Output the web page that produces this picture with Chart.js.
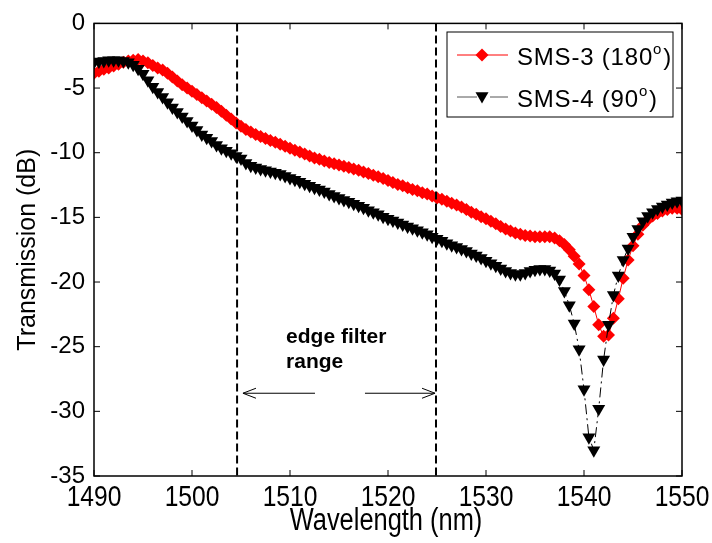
<!DOCTYPE html>
<html>
<head>
<meta charset="utf-8">
<script src="https://cdn.jsdelivr.net/npm/chart.js@4.4.1/dist/chart.umd.min.js"></script>
<style>
    html, body { margin: 0; padding: 0; background: #fff; }
    #wrap { width: 712px; height: 543px; }
</style>
</head>
<body>
<div id="wrap"><canvas id="chart" width="712" height="543"></canvas></div>
<script>
const wavelengths = [
    1490, 1490.5, 1491, 1491.5, 1492, 1492.5, 1493, 1493.5, 1494, 1494.5,
    1495, 1495.5, 1496, 1496.5, 1497, 1497.5, 1498, 1498.5, 1499, 1499.5,
    1500, 1500.5, 1501, 1501.5, 1502, 1502.5, 1503, 1503.5, 1504, 1504.5,
    1505, 1505.5, 1506, 1506.5, 1507, 1507.5, 1508, 1508.5, 1509, 1509.5,
    1510, 1510.5, 1511, 1511.5, 1512, 1512.5, 1513, 1513.5, 1514, 1514.5,
    1515, 1515.5, 1516, 1516.5, 1517, 1517.5, 1518, 1518.5, 1519, 1519.5,
    1520, 1520.5, 1521, 1521.5, 1522, 1522.5, 1523, 1523.5, 1524, 1524.5,
    1525, 1525.5, 1526, 1526.5, 1527, 1527.5, 1528, 1528.5, 1529, 1529.5,
    1530, 1530.5, 1531, 1531.5, 1532, 1532.5, 1533, 1533.5, 1534, 1534.5,
    1535, 1535.5, 1536, 1536.5, 1537, 1537.5, 1538, 1538.5, 1539, 1539.5,
    1540, 1540.5, 1541, 1541.5, 1542, 1542.5, 1543, 1543.5, 1544, 1544.5,
    1545, 1545.5, 1546, 1546.5, 1547, 1547.5, 1548, 1548.5, 1549, 1549.5,
    1550,
];

// SMS-3 (180 deg), red diamonds
const sms3 = [
    -3.85, -3.7, -3.55, -3.45, -3.3, -3.15, -3.0, -2.9, -2.85, -2.8,
    -2.9, -3.05, -3.25, -3.45, -3.6, -3.85, -4.15, -4.45, -4.75, -5.0,
    -5.25, -5.5, -5.75, -6.0, -6.25, -6.5, -6.8, -7.1, -7.4, -7.7,
    -7.95, -8.2, -8.4, -8.6, -8.75, -8.9, -9.05, -9.2, -9.35, -9.5,
    -9.65, -9.8, -9.95, -10.1, -10.25, -10.4, -10.5, -10.65, -10.75, -10.85,
    -10.95, -11.05, -11.15, -11.25, -11.35, -11.5, -11.6, -11.75, -11.85, -12.0,
    -12.15, -12.3, -12.45, -12.55, -12.7, -12.85, -12.95, -13.1, -13.2, -13.35,
    -13.5, -13.6, -13.75, -13.9, -14.05, -14.2, -14.4, -14.6, -14.75, -14.95,
    -15.1, -15.3, -15.5, -15.7, -15.9, -16.05, -16.2, -16.3, -16.4, -16.45,
    -16.5, -16.5, -16.5, -16.5, -16.6, -16.8, -17.1, -17.5, -18.0, -18.6,
    -19.5, -20.6, -21.9, -23.3, -24.2, -24.1, -22.8, -21.3, -19.7, -18.3,
    -17.2, -16.3, -15.6, -15.2, -14.9, -14.7, -14.5, -14.4, -14.3, -14.3,
    -14.4,
];

// SMS-4 (90 deg), black down-triangles
const sms4 = [
    -3.0, -2.95, -2.9, -2.85, -2.85, -2.85, -2.9, -3.0, -3.2, -3.5,
    -3.9, -4.4, -4.9, -5.3, -5.7, -6.1, -6.5, -6.85, -7.2, -7.55,
    -7.9, -8.25, -8.6, -8.85, -9.1, -9.4, -9.65, -9.85, -10.05, -10.25,
    -10.45, -10.8, -11.0, -11.15, -11.25, -11.35, -11.45, -11.55, -11.65, -11.8,
    -11.95, -12.1, -12.25, -12.4, -12.55, -12.7, -12.85, -13.0, -13.2, -13.35,
    -13.5, -13.65, -13.8, -13.95, -14.1, -14.25, -14.45, -14.6, -14.75, -14.95,
    -15.1, -15.25, -15.4, -15.55, -15.7, -15.85, -16.0, -16.15, -16.3, -16.5,
    -16.65, -16.8, -17.0, -17.15, -17.3, -17.45, -17.6, -17.8, -17.95, -18.15,
    -18.35, -18.55, -18.75, -18.95, -19.15, -19.3, -19.4, -19.4, -19.3, -19.15,
    -19.05, -19.0, -19.0, -19.1, -19.35, -19.8, -20.7, -21.8, -23.2, -25.2,
    -28.3, -32.0, -33.0, -29.8, -26.0, -23.3, -21.0, -19.5, -18.3, -17.4,
    -16.5, -15.9, -15.3, -14.9, -14.6, -14.35, -14.15, -14.0, -13.85, -13.75,
    -13.7,
];

const seriesLabels = ['SMS-3 (180', 'SMS-4 (90'];
const xTicks = [1490, 1500, 1510, 1520, 1530, 1540, 1550];
const yTicks = [-35, -30, -25, -20, -15, -10, -5, 0];
const edgeLines = [1504.6, 1524.9];
const arrowLeft = [1512.55, 1505.2];
const arrowRight = [1517.65, 1524.8];
const arrowLevel = -28.6;
const noteLines = ['edge filter', 'range'];
const noteAnchor = { x: 1509.6, y: [-24.75, -26.65] };

const RED = '#ff0000';
const BLACK = '#000000';
const SANS = "'Liberation Sans', Arial, sans-serif";

function toPoints(values) {
    return wavelengths.map((x, i) => ({ x, y: values[i] }));
}

// the figure's horizontal text is squeezed sideways, like Arial Narrow
function drawNarrowText(ctx, text, x, y, size) {
    ctx.save();
    ctx.font = `${size}px ${SANS}`;
    ctx.textAlign = 'center';
    ctx.textBaseline = 'alphabetic';
    ctx.translate(x, y);
    ctx.scale(0.82, 1);
    ctx.fillText(text, 0, 0);
    ctx.restore();
}

function drawDiamond(ctx, x, y, r) {
    ctx.beginPath();
    ctx.moveTo(x, y - r);
    ctx.lineTo(x + r, y);
    ctx.lineTo(x, y + r);
    ctx.lineTo(x - r, y);
    ctx.closePath();
    ctx.fill();
}

function drawDownTriangle(ctx, x, y, r) {
    ctx.beginPath();
    ctx.moveTo(x - r * 0.866, y - r * 0.5);
    ctx.lineTo(x + r * 0.866, y - r * 0.5);
    ctx.lineTo(x, y + r);
    ctx.closePath();
    ctx.fill();
}

function drawArrow(ctx, x1, x2, y) {
    const dir = Math.sign(x2 - x1);
    ctx.beginPath();
    ctx.moveTo(x1, y);
    ctx.lineTo(x2, y);
    ctx.stroke();
    ctx.beginPath();
    ctx.moveTo(x2 - dir * 13, y - 5);
    ctx.lineTo(x2, y);
    ctx.lineTo(x2 - dir * 13, y + 5);
    ctx.stroke();
}

const figureDecor = {
    id: 'figureDecor',
    afterDatasetsDraw(chart) {
        const { ctx, chartArea, scales } = chart;
        const { x: xs, y: ys } = scales;

        ctx.save();

        // edge-filter arrows and note
        ctx.strokeStyle = BLACK;
        ctx.lineWidth = 1;
        const ay = ys.getPixelForValue(arrowLevel);
        drawArrow(ctx, xs.getPixelForValue(arrowLeft[0]), xs.getPixelForValue(arrowLeft[1]), ay);
        drawArrow(ctx, xs.getPixelForValue(arrowRight[0]), xs.getPixelForValue(arrowRight[1]), ay);

        ctx.fillStyle = BLACK;
        ctx.font = `bold 21px ${SANS}`;
        ctx.textAlign = 'left';
        ctx.textBaseline = 'alphabetic';
        noteLines.forEach((line, i) => {
            ctx.fillText(line, xs.getPixelForValue(noteAnchor.x), ys.getPixelForValue(noteAnchor.y[i]));
        });

        // axes box with inward ticks
        ctx.lineWidth = 1.5;
        ctx.strokeRect(chartArea.left, chartArea.top, chartArea.right - chartArea.left, chartArea.bottom - chartArea.top);
        ctx.lineWidth = 1;
        ctx.beginPath();
        xTicks.forEach((v) => {
            const px = xs.getPixelForValue(v);
            ctx.moveTo(px, chartArea.bottom);
            ctx.lineTo(px, chartArea.bottom - 6);
            ctx.moveTo(px, chartArea.top);
            ctx.lineTo(px, chartArea.top + 6);
        });
        yTicks.forEach((v) => {
            const py = ys.getPixelForValue(v);
            ctx.moveTo(chartArea.left, py);
            ctx.lineTo(chartArea.left + 6, py);
            ctx.moveTo(chartArea.right, py);
            ctx.lineTo(chartArea.right - 6, py);
        });
        ctx.stroke();

        // x tick labels and x title
        xTicks.forEach((v) => {
            drawNarrowText(ctx, String(v), xs.getPixelForValue(v), chartArea.bottom + 30, 30);
        });
        drawNarrowText(ctx, 'Wavelength (nm)', (chartArea.left + chartArea.right) / 2 - 2, chartArea.bottom + 54, 31);

        // legend
        const box = { left: 447, top: 32, right: 673, bottom: 117 };
        ctx.fillStyle = '#ffffff';
        ctx.fillRect(box.left, box.top, box.right - box.left, box.bottom - box.top);
        ctx.strokeStyle = BLACK;
        ctx.lineWidth = 1;
        ctx.strokeRect(box.left, box.top, box.right - box.left, box.bottom - box.top);

        const rows = [
            { y: 55, color: RED, dash: [], marker: 'diamond', label: seriesLabels[0] },
            { y: 97, color: BLACK, dash: [20, 5, 3, 5], marker: 'triangle', label: seriesLabels[1] },
        ];
        rows.forEach((row) => {
            ctx.save();
            ctx.strokeStyle = row.color === RED ? RED : '#555555';
            ctx.lineWidth = 1;
            ctx.setLineDash(row.dash);
            ctx.beginPath();
            ctx.moveTo(457, row.y);
            ctx.lineTo(508, row.y);
            ctx.stroke();
            ctx.restore();
            ctx.fillStyle = row.color;
            if (row.marker === 'diamond') {
                drawDiamond(ctx, 482, row.y, 6.5);
            } else {
                drawDownTriangle(ctx, 482, row.y - 1, 7.5);
            }
            ctx.save();
            ctx.fillStyle = BLACK;
            ctx.font = `24px ${SANS}`;
            ctx.letterSpacing = '0.8px';
            ctx.textAlign = 'left';
            ctx.textBaseline = 'alphabetic';
            const baseline = row.y + 10;
            ctx.fillText(row.label, 517, baseline);
            const w = ctx.measureText(row.label).width;
            ctx.font = `15px ${SANS}`;
            ctx.fillText('o', 517 + w, baseline - 11);
            const ow = ctx.measureText('o').width;
            ctx.font = `24px ${SANS}`;
            ctx.fillText(')', 517 + w + ow + 1, baseline);
            ctx.restore();
        });

        ctx.restore();
    },
};

const context = document.getElementById('chart').getContext('2d');

new Chart(context, {
    type: 'line',
    data: {
        datasets: [
            ...edgeLines.map((x) => ({
                data: [{ x, y: 0 }, { x, y: -35 }],
                borderColor: BLACK,
                borderWidth: 2,
                borderDash: [8, 4],
                pointRadius: 0,
                order: 0,
            })),
            {
                label: seriesLabels[1],
                data: toPoints(sms4),
                borderColor: BLACK,
                borderWidth: 1,
                borderDash: [10, 4, 2, 4],
                backgroundColor: BLACK,
                pointStyle: 'triangle',
                pointRotation: 180,
                pointRadius: 7.5,
                pointBorderWidth: 0,
                order: 1,
            },
            {
                label: seriesLabels[0],
                data: toPoints(sms3),
                borderColor: RED,
                borderWidth: 1,
                backgroundColor: RED,
                pointStyle: 'rectRot',
                pointRadius: 6.5,
                pointBorderWidth: 0,
                order: 2,
            },
        ],
    },
    options: {
        responsive: false,
        animation: false,
        devicePixelRatio: 1,
        layout: {
            padding: { left: 0, top: 20, right: 30, bottom: 0 },
        },
        plugins: {
            legend: { display: false },
            tooltip: { enabled: false },
        },
        elements: {
            line: { tension: 0 },
        },
        scales: {
            x: {
                type: 'linear',
                min: 1490,
                max: 1550,
                afterFit(scale) { scale.height = 67; },
                afterBuildTicks(scale) { scale.ticks = xTicks.map((value) => ({ value })); },
                grid: { display: false, drawTicks: false },
                border: { display: false },
                ticks: { display: false },
                title: { display: false },
            },
            y: {
                type: 'linear',
                min: -35,
                max: 0,
                afterFit(scale) { scale.width = 94; },
                afterBuildTicks(scale) { scale.ticks = yTicks.map((value) => ({ value })); },
                grid: { display: false, drawTicks: false },
                border: { display: false },
                ticks: {
                    color: BLACK,
                    padding: 9,
                    font: { family: SANS, size: 24 },
                    callback: (value) => String(value),
                },
                title: {
                    display: true,
                    text: 'Transmission (dB)',
                    color: BLACK,
                    font: { family: SANS, size: 25 },
                    padding: { top: 13, bottom: 0 },
                },
            },
        },
    },
    plugins: [figureDecor],
});
</script>
</body>
</html>
